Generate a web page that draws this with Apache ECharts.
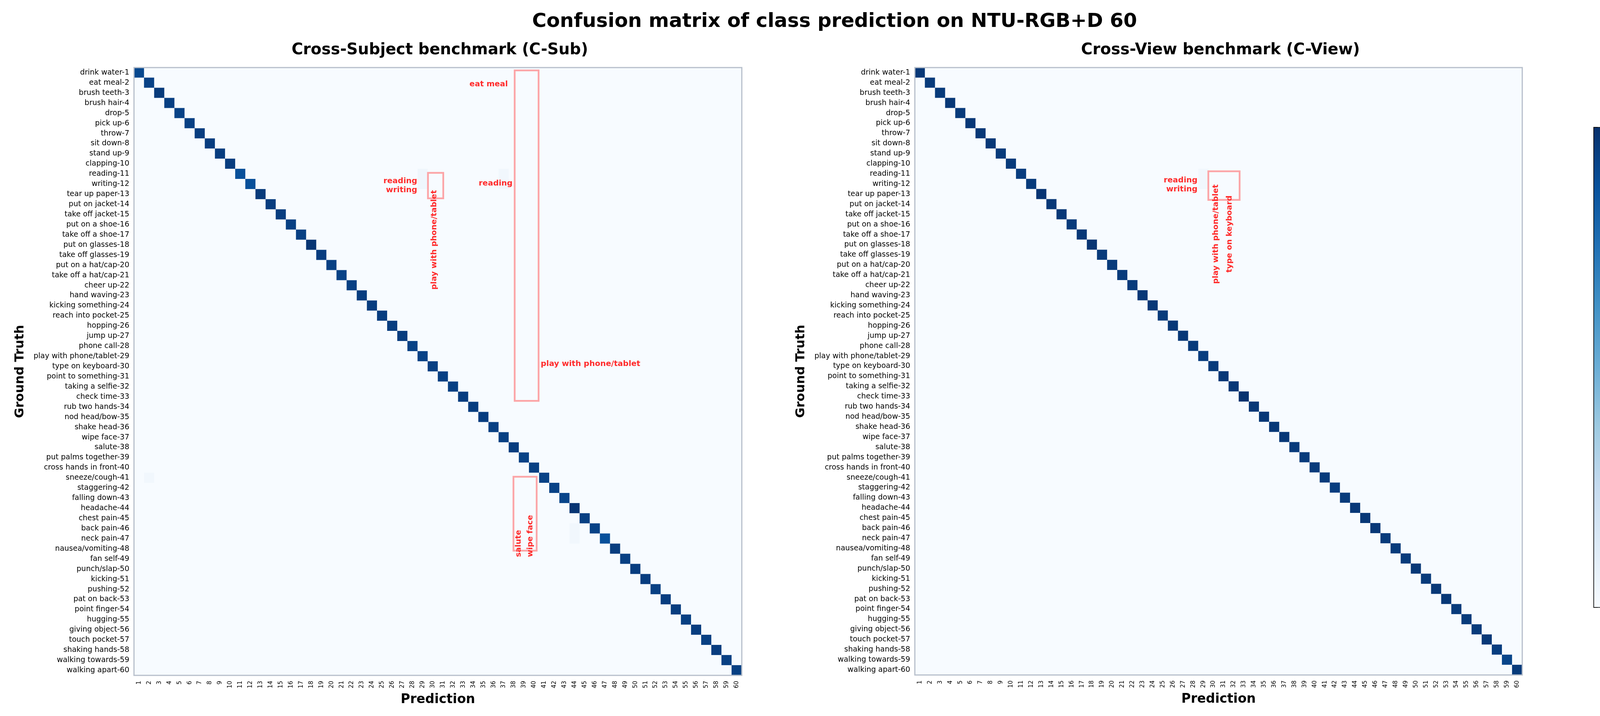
<!DOCTYPE html>
<html><head><meta charset="utf-8">
<script src="https://cdn.jsdelivr.net/npm/echarts@6/dist/echarts.min.js"></script>
<style>html,body{margin:0;padding:0;background:#fff}#chart{width:4273px;height:1833px}</style>
</head><body><div id="chart"></div>
<script>
const classNames = ['drink water','eat meal','brush teeth','brush hair','drop','pick up','throw','sit down','stand up','clapping',
 'reading','writing','tear up paper','put on jacket','take off jacket','put on a shoe','take off a shoe','put on glasses','take off glasses','put on a hat/cap',
 'take off a hat/cap','cheer up','hand waving','kicking something','reach into pocket','hopping','jump up','phone call','play with phone/tablet','type on keyboard',
 'point to something','taking a selfie','check time','rub two hands','nod head/bow','shake head','wipe face','salute','put palms together','cross hands in front',
 'sneeze/cough','staggering','falling down','headache','chest pain','back pain','neck pain','nausea/vomiting','fan self','punch/slap',
 'kicking','pushing','pat on back','point finger','hugging','giving object','touch pocket','shaking hands','walking towards','walking apart'];
const predTicks = classNames.map((_, i) => String(i + 1));
const truthTicks = classNames.map((n, i) => n + '-' + (i + 1));

// diagonal (correct-class) scores
const diagCSub = [0.91,0.93,0.96,0.94,0.93,0.94,0.95,0.95,0.95,0.95,
 0.88,0.88,0.96,0.95,0.95,0.94,0.94,0.98,0.95,0.94,
 0.93,0.94,0.95,0.95,0.95,0.95,0.95,0.93,0.93,0.94,
 0.94,0.94,0.95,0.95,0.95,0.94,0.94,0.95,0.93,0.94,
 0.93,0.93,0.92,0.98,0.94,0.93,0.88,0.95,0.94,0.95,
 0.95,0.94,0.95,0.95,0.94,0.95,0.94,0.95,0.94,0.94];
const diagCView = [0.97,0.96,0.96,0.97,0.96,0.97,0.97,0.97,0.96,0.96,
 0.95,0.96,0.98,0.97,0.97,0.96,0.97,0.98,0.96,0.96,
 0.96,0.96,0.97,0.97,0.96,0.97,0.97,0.96,0.95,0.96,
 0.97,0.97,0.99,0.97,0.97,0.97,0.97,0.96,0.96,0.96,
 0.96,0.95,0.96,0.97,0.97,0.97,0.96,0.96,0.96,0.97,
 0.96,0.97,0.97,0.96,0.96,0.96,0.97,0.95,0.92,0.96];
// off-diagonal confusions [row (truth), col (prediction), score], 0-based
const offCSub = [[10,28,0.04],[11,28,0.04],[10,36,0.03],[11,36,0.03],[40,1,0.03],[45,43,0.03],[46,43,0.03]];
const offCView = [[10,28,0.03],[11,28,0.03]];

const bluesColors = ['#f7fbff','#deebf7','#c6dbef','#9ecae1','#6baed6','#4292c6','#2171b5','#08519c','#08306b'];

// annotation boxes [x0, y0, x1, y1] in cell units from the top-left corner of the matrix
const boxesCSub = [[37.58,0.28,39.94,32.9],[37.46,40.39,39.75,47.69],[29.02,10.39,30.53,12.91]];
const boxesCView = [[28.99,10.24,32.08,13.07]];
const notesCSub = [
 {text:'eat meal', u:36.91, v:1.66, align:'right', rot:0},
 {text:'reading', u:37.37, v:11.45, align:'right', rot:0},
 {text:'play with phone/tablet', u:40.15, v:29.27, align:'left', rot:0},
 {text:'reading\nwriting', u:27.96, v:11.67, align:'right', rot:0},
 {text:'play with phone/tablet', u:29.66, v:21.92, align:'left', rot:90},
 {text:'salute', u:37.98, v:48.32, align:'left', rot:90},
 {text:'wipe face', u:39.14, v:48.32, align:'left', rot:90}
];
const notesCView = [
 {text:'reading\nwriting', u:27.92, v:11.59, align:'right', rot:0},
 {text:'play with phone/tablet', u:29.74, v:21.37, align:'left', rot:90},
 {text:'type on keyboard', u:31.08, v:20.25, align:'left', rot:90}
];

const FONT = 'DejaVu Sans';
const L1 = {left:343, top:173, w:1556, h:1556};
const L2 = {left:2342, top:173, w:1555, h:1555};
const LC = {left:4080, top:326, w:48, h:1229};

function buildMatrix(diag, off) {
  const m = {};
  for (let r = 0; r < 60; r++) for (let c = 0; c < 60; c++) m[r + '_' + c] = (r === c ? diag[r] : 0);
  off.forEach(o => { m[o[0] + '_' + o[1]] = o[2]; });
  const out = [];
  for (let r = 0; r < 60; r++) for (let c = 0; c < 60; c++) out.push([c, r, m[r + '_' + c]]);
  return out;
}
function frame(api) {
  const c = api.coord([0, 0]);
  const s = api.size([1, 1]);
  return {ox: c[0] - s[0] / 2, oy: c[1] - s[1] / 2, w: s[0], h: s[1]};
}
function boxSeries(idx, boxes) {
  return {
    type:'custom', xAxisIndex: idx, yAxisIndex: idx, z: 5, silent: true,
    data: boxes.map(b => [0, 0, b[0], b[1], b[2], b[3]]),
    encode: {x: 0, y: 1},
    renderItem: function (params, api) {
      const f = frame(api);
      const x0 = api.value(2), y0 = api.value(3), x1 = api.value(4), y1 = api.value(5);
      return {type:'rect', shape:{x: f.ox + x0 * f.w, y: f.oy + y0 * f.h, width:(x1 - x0) * f.w, height:(y1 - y0) * f.h},
        style:{fill:null, stroke:'#fca5a7', lineWidth:4.5}};
    }
  };
}
function noteSeries(idx, notes) {
  return {
    type:'custom', xAxisIndex: idx, yAxisIndex: idx, z: 6, silent: true,
    data: notes.map(n => [0, 0, n.u, n.v]),
    encode: {x: 0, y: 1},
    renderItem: function (params, api) {
      const f = frame(api);
      const n = notes[params.dataIndex];
      return {type:'text', x: f.ox + api.value(2) * f.w, y: f.oy + api.value(3) * f.h,
        rotation: n.rot * Math.PI / 180,
        style:{text: n.text, fill:'#ff2b2b', fontSize:20, fontWeight:'bold', fontFamily:FONT,
          align: n.align, verticalAlign:'middle', lineHeight:23}};
    }
  };
}
function xAx(idx) {
  return {type:'category', gridIndex: idx, data: predTicks, position:'bottom',
    axisLine:{show:false}, axisTick:{show:false}, splitLine:{show:false},
    axisLabel:{interval:0, rotate:90, fontSize:15, fontFamily:FONT, color:'#000', margin:14},
    name:'Prediction', nameLocation:'middle', nameGap:46,
    nameTextStyle:{fontSize:33, fontWeight:'bold', fontFamily:FONT, color:'#000'}};
}
function yAx(idx) {
  return {type:'category', gridIndex: idx, data: truthTicks, inverse:true,
    axisLine:{show:false}, axisTick:{show:false}, splitLine:{show:false},
    axisLabel:{interval:0, fontSize:19, fontFamily:FONT, color:'#000', margin:12},
    name:'Ground Truth', nameLocation:'middle', nameGap:275, nameRotate:90,
    nameTextStyle:{fontSize:32, fontWeight:'bold', fontFamily:FONT, color:'#000'}};
}
function gradStops() {
  return bluesColors.map((c, i) => ({offset: 1 - i / (bluesColors.length - 1), color: c})).reverse();
}

const chart = echarts.init(document.getElementById('chart'), null, {renderer:'canvas'});
chart.setOption({
  backgroundColor:'#ffffff',
  animation:false,
  title:[
    {text:'Confusion matrix of class prediction on NTU-RGB+D 60', left:'center', top:26,
      textStyle:{fontSize:50, fontWeight:'bold', fontFamily:FONT, color:'#000'}},
    {text:'Cross-Subject benchmark (C-Sub)', left: L1.left + L1.w / 2, textAlign:'center', top:104,
      textStyle:{fontSize:40, fontWeight:'bold', fontFamily:FONT, color:'#000'}},
    {text:'Cross-View benchmark (C-View)', left: L2.left + L2.w / 2, textAlign:'center', top:104,
      textStyle:{fontSize:40, fontWeight:'bold', fontFamily:FONT, color:'#000'}}
  ],
  grid:[
    {left:L1.left, top:L1.top, width:L1.w, height:L1.h, show:true, backgroundColor:'#f7fbff', borderWidth:0},
    {left:L2.left, top:L2.top, width:L2.w, height:L2.h, show:true, backgroundColor:'#f7fbff', borderWidth:0},
    {left:LC.left, top:LC.top, width:LC.w, height:LC.h}
  ],
  xAxis:[xAx(0), xAx(1),
    {type:'value', gridIndex:2, min:0, max:1, show:false}],
  yAxis:[yAx(0), yAx(1),
    {type:'value', gridIndex:2, min:0, max:1, interval:0.2, position:'right',
      axisLine:{show:true, lineStyle:{color:'#000', width:2.5}},
      axisTick:{show:true, length:10, lineStyle:{color:'#000', width:2}},
      splitLine:{show:false},
      axisLabel:{fontSize:23, fontFamily:FONT, color:'#000', margin:24, formatter: v => v.toFixed(1)},
      name:'Normalized prediction score', nameLocation:'middle', nameGap:76, nameRotate:90,
      nameTextStyle:{fontSize:32, fontWeight:'bold', fontFamily:FONT, color:'#000'}}],
  visualMap:{type:'continuous', show:false, min:0, max:1, seriesIndex:[0, 1], inRange:{color:bluesColors}},
  series:[
    {type:'heatmap', xAxisIndex:0, yAxisIndex:0, data: buildMatrix(diagCSub, offCSub), progressive:0,
      itemStyle:{borderWidth:0}, emphasis:{disabled:true}, silent:true},
    {type:'heatmap', xAxisIndex:1, yAxisIndex:1, data: buildMatrix(diagCView, offCView), progressive:0,
      itemStyle:{borderWidth:0}, emphasis:{disabled:true}, silent:true},
    boxSeries(0, boxesCSub), noteSeries(0, notesCSub),
    boxSeries(1, boxesCView), noteSeries(1, notesCView),
    {type:'custom', xAxisIndex:2, yAxisIndex:2, silent:true, data:[[0, 0]],
      renderItem: function (params, api) {
        const p0 = api.coord([0, 1]);
        const p1 = api.coord([1, 0]);
        return {type:'rect', shape:{x:p0[0], y:p0[1], width:p1[0] - p0[0], height:p1[1] - p0[1]},
          style:{fill: new echarts.graphic.LinearGradient(0, 0, 0, 1, gradStops()), stroke:'#000', lineWidth:1.5}};
      }}
  ],
  graphic:[
    {type:'rect', z:100, silent:true, shape:{x:L1.left, y:L1.top, width:L1.w, height:L1.h}, style:{fill:null, stroke:'#b7bfcb', lineWidth:3}},
    {type:'rect', z:100, silent:true, shape:{x:L2.left, y:L2.top, width:L2.w, height:L2.h}, style:{fill:null, stroke:'#b7bfcb', lineWidth:3}}
  ]
});
</script>
</body></html>
